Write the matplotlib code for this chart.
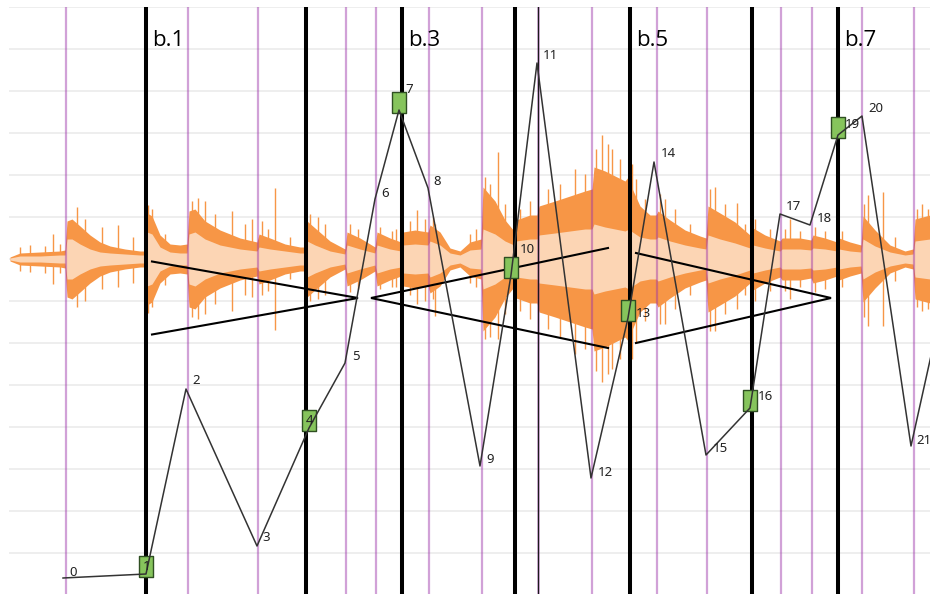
import matplotlib
matplotlib.use("Agg")
import matplotlib.pyplot as plt
import numpy as np

# ---------------- data (time axis in pixels-like units, value axis centred on waveform) -------------
bar_lines = [146, 306, 402, 515, 630, 752, 838]
beat_lines = [66, 188, 258, 346, 376, 429, 482, 592, 657, 707, 781, 812, 862, 914]
accent_beat = [538]
bar_labels = ["b.1", "b.3", "b.5", "b.7"]
bar_label_pos = [146, 402, 630, 838]

note_x = [63, 146, 186, 257, 309, 345, 375, 399, 428, 480, 511, 537,
          591, 628, 654, 706, 750, 780, 810, 838, 862, 911, 950]
note_y = [-319, -315, -130, -287, -169, -104, 60, 149, 71, -207, -16, 196,
          -219, -59, 97, -196, -149, 45, 34, 124, 143, -187, -11]
downbeat_idx = [1, 4, 7, 10, 13, 16, 19]

hair_start = [152, 371, 636]
hair_end = [358, 608, 831]
hair_open = [36.5, 50, 45]
hair_kind = ["dim", "cres", "dim"]
hair_center = -39

wave_x = [10, 20, 40, 60, 65, 67, 72, 80, 90, 100,
          110, 125, 140, 145, 147, 152, 160, 170, 180, 187,
          189, 195, 205, 220, 240, 257, 259, 270, 285, 300,
          305, 307, 315, 330, 345, 347, 360, 375, 377, 390,
          401, 403, 415, 428, 430, 440, 450, 460, 470, 481,
          483, 495, 505, 514, 516, 530, 537, 539, 555, 570,
          585, 592, 594, 605, 615, 625, 629, 631, 640, 650,
          656, 658, 670, 685, 700, 706, 708, 720, 735, 750,
          753, 765, 780, 782, 800, 811, 813, 825, 837, 839,
          850, 861, 863, 875, 890, 905, 913, 915, 930]
wave_outer = [2, 6, 7, 8, 9, 38, 40, 33, 24, 17,
              13, 10, 8, 8, 46, 43, 24, 15, 14, 15,
              48, 50, 38, 29, 21, 17, 25, 21, 15, 12,
              12, 38, 31, 18, 10, 27, 21, 12, 27, 21,
              17, 27, 29, 27, 34, 27, 11, 8, 17, 20,
              72, 58, 39, 28, 39, 44, 44, 53, 58, 63,
              68, 70, 92, 88, 83, 78, 83, 73, 53, 44,
              44, 48, 39, 29, 23, 21, 53, 46, 37, 24,
              31, 24, 18, 21, 21, 19, 24, 21, 17, 21,
              17, 14, 43, 29, 14, 8, 10, 40, 44]
wave_inner = [1, 3, 3, 4, 4, 20, 20, 15, 10, 7,
              6, 5, 4, 4, 27, 25, 12, 7, 6, 6,
              25, 27, 20, 14, 10, 8, 12, 10, 8, 6,
              6, 18, 14, 8, 5, 14, 10, 6, 14, 10,
              8, 14, 15, 14, 18, 14, 6, 4, 9, 10,
              30, 25, 18, 14, 18, 20, 20, 24, 26, 28,
              30, 30, 35, 32, 30, 28, 30, 28, 22, 20,
              20, 22, 18, 14, 11, 10, 24, 20, 16, 11,
              14, 11, 8, 10, 10, 9, 11, 10, 8, 10,
              8, 7, 20, 13, 7, 4, 5, 18, 20]
spike_x = [20, 30, 45, 53, 60, 77, 85, 102, 118, 133,
           148, 152, 165, 192, 198, 205, 215, 232, 245, 252,
           262, 268, 275, 290, 310, 318, 325, 350, 358, 380,
           392, 396, 410, 417, 425, 433, 435, 470, 476, 485,
           490, 498, 505, 520, 530, 548, 560, 575, 585, 596,
           602, 608, 612, 620, 632, 636, 645, 660, 665, 675,
           690, 710, 715, 725, 737, 745, 755, 770, 785, 790,
           800, 815, 825, 842, 864, 868, 883, 895, 917, 922, 928]
spike_up = [12, 14, 13, 25, 15, 52, 40, 32, 34, 22,
            54, 50, 25, 58, 61, 58, 45, 48, 35, 40,
            38, 30, 71, 22, 45, 42, 35, 35, 30, 32,
            28, 30, 38, 49, 40, 42, 35, 25, 30, 82,
            75, 107, 55, 50, 58, 70, 75, 90, 85, 110,
            124, 115, 110, 100, 95, 80, 60, 65, 60, 50,
            35, 70, 72, 55, 56, 35, 40, 30, 30, 40,
            28, 32, 28, 28, 55, 64, 67, 22, 50, 55, 50]
spike_dn = [12, 13, 14, 25, 14, 48, 42, 30, 28, 24,
            54, 48, 26, 58, 60, 55, 45, 52, 36, 38,
            36, 32, 71, 20, 42, 40, 36, 33, 30, 30,
            28, 28, 36, 45, 42, 40, 57, 24, 28, 80,
            78, 80, 55, 52, 60, 70, 78, 95, 90, 112,
            123, 115, 110, 100, 100, 84, 62, 65, 65, 50,
            36, 72, 72, 55, 50, 36, 42, 32, 32, 40,
            28, 33, 30, 28, 58, 67, 67, 22, 48, 52, 50]

# label offsets (px) – style only
lab_dx = [6, -3, 6, 5, -3, 7, 6, 6, 5, 6, 9, 6, 7, 8, 7, 7, 8, 6, 7, 7, 6, 5, 5]
lab_dy = [2, 4, 5, 5, 4, 3, 2, 17, 3, 3, 22, 4, 2, 1, 5, 3, 8, 4, 3, 7, 4, 2, 2]

# ---------------- figure ----------------
fig = plt.figure(figsize=(9.3, 5.94), dpi=100)
ax = fig.add_axes([9 / 930, 0, 921 / 930, 587.4 / 594])
ax.set_xlim(9, 930)
ax.set_ylim(-335, 252.4)
for s in ax.spines.values():
    s.set_visible(False)
ax.set_xticks([])
ax.set_yticks(np.arange(-294, 253, 42))
ax.tick_params(length=0, labelleft=False)
ax.grid(axis="y", color="#ededed", lw=1.3)
ax.set_axisbelow(True)

wx = np.array(wave_x)
wo = np.array(wave_outer)
wi = np.array(wave_inner)
ax.vlines(spike_x, -np.array(spike_dn), np.array(spike_up), color="#f79646", lw=1.0, zorder=1)
ax.fill_between(wx, -wo, wo, color="#f79646", lw=0, zorder=1)
ax.fill_between(wx, -wi, wi, color="#fcd5b4", lw=0, zorder=1.5)

for x in beat_lines:
    ax.axvline(x, color="#9b30a8", alpha=0.45, lw=1.6, zorder=2)
for x in accent_beat:
    ax.axvline(x, color="#9b30a8", alpha=0.45, lw=1.8, zorder=2)
    ax.axvline(x, color="#1a1a1a", lw=0.9, zorder=2.1)
for x in bar_lines:
    ax.axvline(x, color="black", lw=2.9, zorder=3)

for xs, xe, h, k in zip(hair_start, hair_end, hair_open, hair_kind):
    if k == "dim":
        ax.plot([xs, xe, xs], [hair_center + h, hair_center, hair_center - h],
                color="black", lw=1.5, zorder=4, solid_joinstyle="miter")
    else:
        ax.plot([xe, xs, xe], [hair_center + h, hair_center, hair_center - h],
                color="black", lw=1.5, zorder=4, solid_joinstyle="miter")

box = [(-7, -3), (7, -3), (7, 18), (-7, 18), (-7, -3)]
ax.plot([note_x[i] for i in downbeat_idx], [note_y[i] for i in downbeat_idx], ls="none",
        marker=box, ms=25.9, mfc="#86c45c", mec="#2f4f22", mew=1.0, zorder=5)
ax.plot(note_x, note_y, color="#333333", lw=1.1, zorder=6)

for i, (x, y) in enumerate(zip(note_x, note_y)):
    ax.annotate(str(i), (x, y), xytext=(lab_dx[i] * 0.72, lab_dy[i] * 0.72),
                textcoords="offset points", ha="left", va="baseline",
                fontsize=9.5, family="Noto Sans", color="#222222", zorder=7)

for lab, x in zip(bar_labels, bar_label_pos):
    ax.annotate(lab, (x, 213), xytext=(4.5, 0), textcoords="offset points",
                ha="left", va="baseline", fontsize=16, family="Open Sans",
                color="black", zorder=7)

fig.savefig("out.png", dpi=100)
